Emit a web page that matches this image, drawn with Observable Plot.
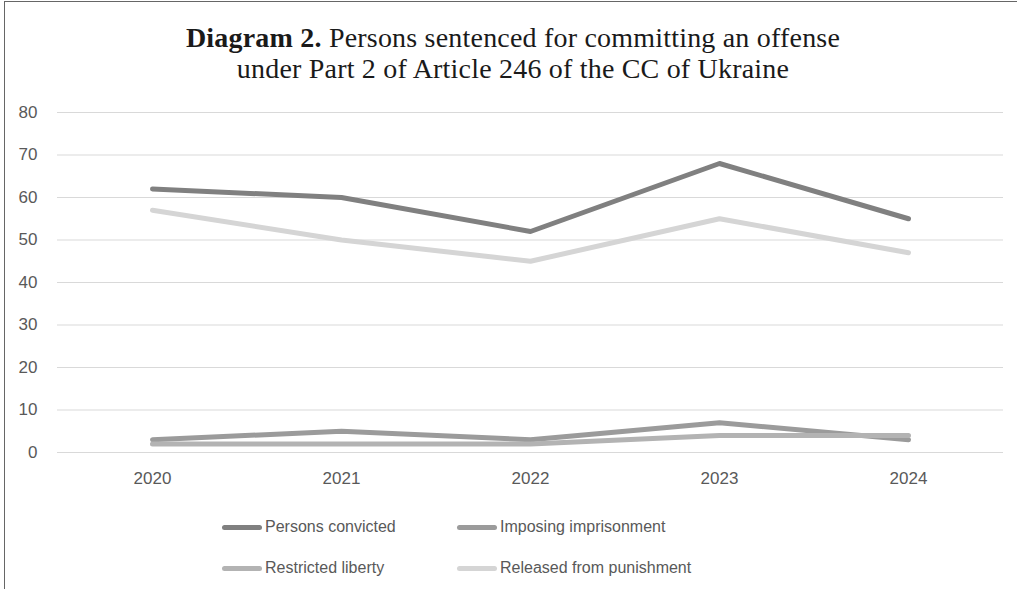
<!DOCTYPE html>
<html>
<head>
<meta charset="utf-8">
<script src="https://cdn.jsdelivr.net/npm/d3@7"></script>
<script src="https://cdn.jsdelivr.net/npm/@observablehq/plot@0.6"></script>
<style>
  html, body { margin: 0; padding: 0; background: #fff; }
  body { width: 1017px; height: 589px; position: relative; overflow: hidden; }
  #frame { position: absolute; left: 4px; top: 1px; width: 1200px; height: 700px;
           border-left: 1.5px solid #666; border-top: 1.5px solid #666; }
  #title { position: absolute; left: 0; top: 22px; width: 1026px; text-align: center;
           font-family: "Liberation Serif", "Times New Roman", serif; font-size: 28px;
           letter-spacing: 0.2px; line-height: 31px; color: #1a1a1a; }
  #chart { position: absolute; left: 0; top: 90px; }
  #legend { position: absolute; left: 0; top: 0; width: 1017px; height: 589px; pointer-events: none;
            font-family: "Liberation Sans", Arial, sans-serif; font-size: 16px; color: #595959; }
  .item { position: absolute; display: flex; align-items: center; height: 20px; }
  .sw { width: 40px; height: 5px; border-radius: 3px; margin-right: 3px; }
</style>
</head>
<body>
<div id="frame"></div>
<div id="title"><b>Diagram 2.</b> Persons sentenced for committing an offense<br>under Part 2 of Article 246 of the CC of Ukraine</div>
<div id="chart"></div>
<div id="legend"></div>
<script>
const years = ["2020", "2021", "2022", "2023", "2024"];
const convicted = [62, 60, 52, 68, 55];
const imprisonment = [3, 5, 3, 7, 3];
const restricted = [2, 2, 2, 4, 4];
const released = [57, 50, 45, 55, 47];
const seriesNames = ["Persons convicted", "Imposing imprisonment", "Restricted liberty", "Released from punishment"];
const seriesColors = ["#808080", "#9b9b9b", "#b3b3b3", "#d5d5d5"];
const yTicks = [0, 10, 20, 30, 40, 50, 60, 70, 80];

const seriesValues = [convicted, imprisonment, restricted, released];
const data = [];
seriesNames.forEach((name, i) => {
  years.forEach((yr, j) => data.push({series: name, year: yr, value: seriesValues[i][j]}));
});

const chart = Plot.plot({
  width: 1017,
  height: 400,
  marginTop: 22,
  marginBottom: 38,
  marginLeft: 57,
  marginRight: 14,
  style: {fontFamily: "Liberation Sans, Arial, sans-serif", fontSize: "17px", color: "#595959", background: "transparent"},
  x: {type: "point", domain: years, padding: 0.5, label: null},
  y: {domain: [0, 80], label: null},
  color: {domain: seriesNames, range: seriesColors},
  marks: [
    Plot.gridY(yTicks, {stroke: "#d9d9d9", strokeOpacity: 1, strokeWidth: 1.2}),
    Plot.axisY(yTicks, {tickSize: 0, tickPadding: 20, label: null, fill: "#595959"}),
    Plot.axisX(years, {tickSize: 0, tickPadding: 19, label: null, fill: "#595959"}),
    Plot.line(data, {x: "year", y: "value", z: "series", stroke: "series", strokeWidth: 5,
                     strokeLinecap: "round", strokeLinejoin: "round"})
  ]
});
document.getElementById("chart").appendChild(chart);

// Legend (2 columns x 2 rows)
const legend = document.getElementById("legend");
const colX = [222, 457];
const rowY = [517, 558];
seriesNames.forEach((name, i) => {
  const div = document.createElement("div");
  div.className = "item";
  div.style.left = colX[i % 2] + "px";
  div.style.top = rowY[Math.floor(i / 2)] + "px";
  div.innerHTML = `<span class="sw" style="background:${seriesColors[i]}"></span><span>${name}</span>`;
  legend.appendChild(div);
});
</script>
</body>
</html>
